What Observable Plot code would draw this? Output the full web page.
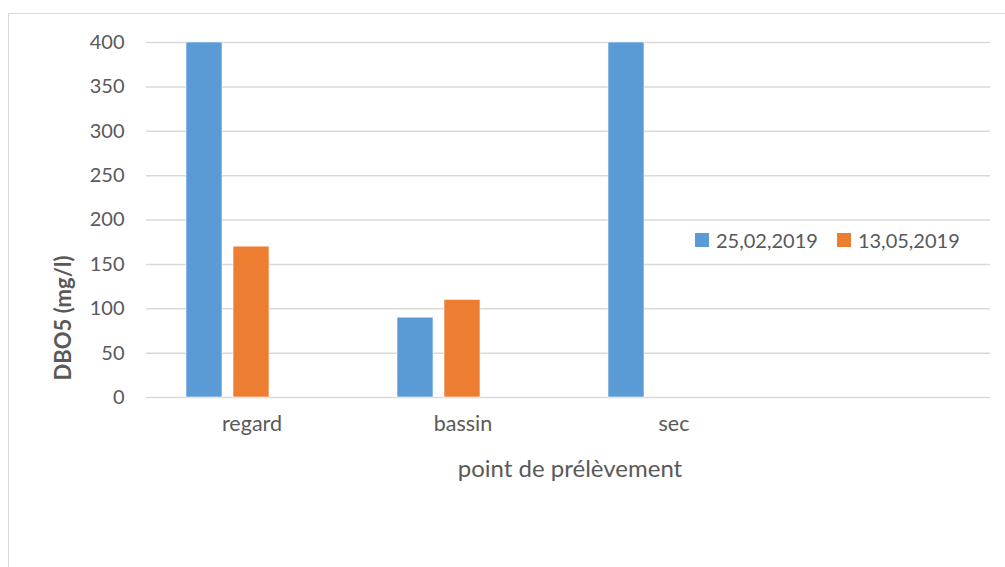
<!DOCTYPE html>
<html>
<head>
<meta charset="utf-8">
<script src="https://cdn.jsdelivr.net/npm/d3@7"></script>
<script src="https://cdn.jsdelivr.net/npm/@observablehq/plot@0.6"></script>
<style>
  html, body { margin: 0; padding: 0; background: #fff; overflow: hidden; }
  #wrap { position: relative; width: 1005px; height: 567px; font-family: Lato, "Open Sans", sans-serif; color: #595959; }
  #frame { position: absolute; left: 8px; top: 13px; width: 1100px; height: 700px; border: 1.5px solid #D9D9D9; box-sizing: border-box; }
  #chart { position: absolute; left: 0; top: 0; }
  .ytitle { position: absolute; left: 62px; top: 318px; transform: translate(-50%, -50%) rotate(-90deg); font-weight: bold; font-size: 22px; white-space: nowrap; }
  .xtitle { position: absolute; left: 570px; top: 467px; transform: translate(-50%, -50%); font-size: 24px; white-space: nowrap; }
  .legend { position: absolute; left: 695px; top: 240px; transform: translateY(-50%); display: flex; align-items: center; font-size: 20px; white-space: nowrap; }
  .legend .sw { display: inline-block; width: 14px; height: 14px; margin-right: 7px; }
  .legend .item { display: flex; align-items: center; margin-right: 19px; }
</style>
</head>
<body>
<div id="wrap">
  <div id="frame"></div>
  <div id="chart"></div>
</div>
<script>
// ---- data ----
const sites = ["regard", "bassin", "sec", " "];         // 4th category slot is empty in the original
const series = ["25,02,2019", "13,05,2019"];
const slots = [...series, "(vide)"];                   // third, empty series slot in the original chart
const values_25_02_2019 = [400, 90, 400];
const values_13_05_2019 = [170, 110, null];
const colors = ["#5B9BD5", "#ED7D31"];
const yTicks = [0, 50, 100, 150, 200, 250, 300, 350, 400];
const yTitle = "DBO5 (mg/l)";
const xTitle = "point de prélèvement";

const rows = [];
[values_25_02_2019, values_13_05_2019].forEach((vals, si) => {
  vals.forEach((v, i) => { if (v != null) rows.push({site: sites[i], date: series[si], value: v}); });
});
const gridRows = sites.flatMap(s => yTicks.map(t => ({site: s, tick: t})));

const plot = Plot.plot({
  width: 1005,
  height: 567,
  marginLeft: 145,
  marginRight: 15,
  marginTop: 42,
  marginBottom: 170,
  style: {fontFamily: "Lato, 'Open Sans', sans-serif", fontSize: "20px", color: "#595959", background: "transparent"},
  fx: {domain: sites, padding: 0, label: null},
  x: {domain: slots, paddingInner: 0.234, paddingOuter: 0.859, axis: null},
  y: {domain: [0, 400], label: null},
  color: {domain: series, range: colors},
  marks: [
    Plot.ruleY(gridRows, {fx: "site", y: "tick", stroke: "#D9D9D9", strokeWidth: 1.5}),
    Plot.barY(rows, {fx: "site", x: "date", y: "value", fill: "date", stroke: "white", strokeWidth: 0.6}),
    Plot.axisY({ticks: yTicks, tickSize: 0, tickPadding: 22, label: null, fill: "#595959", fontSize: "20px"}),
    Plot.axisFx({anchor: "bottom", tickSize: 0, tickPadding: 18, label: null, fill: "#595959", fontSize: "21.5px"})
  ]
});
document.getElementById("chart").appendChild(plot);

const wrap = document.getElementById("wrap");
const yt = document.createElement("div"); yt.className = "ytitle"; yt.textContent = yTitle; wrap.appendChild(yt);
const xt = document.createElement("div"); xt.className = "xtitle"; xt.textContent = xTitle; wrap.appendChild(xt);
const lg = document.createElement("div"); lg.className = "legend";
series.forEach((s, i) => {
  const it = document.createElement("span"); it.className = "item";
  const sw = document.createElement("span"); sw.className = "sw"; sw.style.background = colors[i];
  it.appendChild(sw); it.appendChild(document.createTextNode(s)); lg.appendChild(it);
});
wrap.appendChild(lg);
</script>
</body>
</html>
